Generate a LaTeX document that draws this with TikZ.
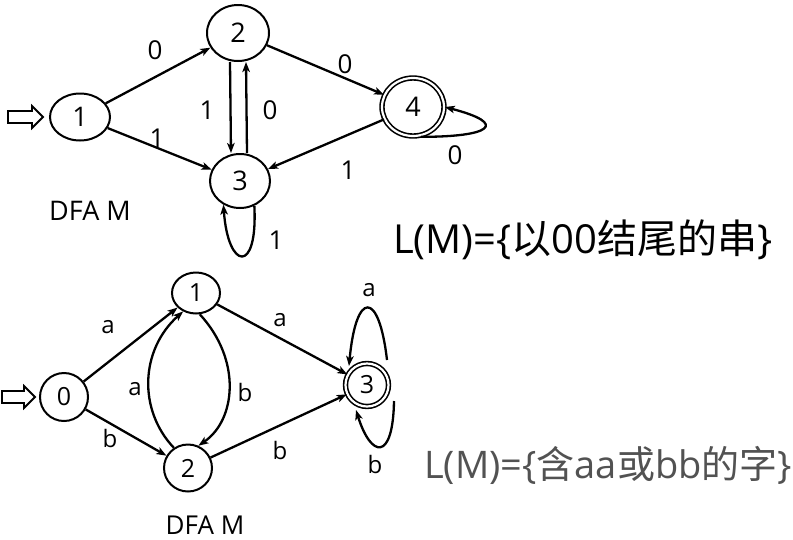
\documentclass[tikz,border=0pt]{standalone}
\usepackage{fontspec}
\setmainfont{Open Sans}
\newfontfamily\cjk{Noto Sans CJK SC}
\usetikzlibrary{arrows.meta,shapes.geometric}
\begin{document}
\begin{tikzpicture}[x=1pt,y=-1pt,
  st/.style={draw,ellipse,line width=2pt,inner sep=0pt},
  acc/.style={st,double,double distance=2.2pt,line width=1.6pt},
  ed/.style={line width=2.3pt,-{Stealth[length=10pt,width=7.5pt,inset=2.5pt]}},
  lab/.style={font=\fontsize{26}{28}\selectfont},
  labb/.style={font=\fontsize{24}{26}\selectfont},
  startarr/.style={draw,line width=1.8pt,fill=white}]
\useasboundingbox (0,0) rectangle (793,539);
% ---------- top DFA ----------
\node[st,minimum width=60pt,minimum height=47pt,font=\fontsize{27}{29}\selectfont] (n1) at (80,117) {1};
\node[st,minimum width=62pt,minimum height=56pt,font=\fontsize{27}{29}\selectfont] (n2) at (238,33) {2};
\node[st,minimum width=60pt,minimum height=54pt,font=\fontsize{27}{29}\selectfont] (n3) at (240,181) {3};
\node[acc,minimum width=62pt,minimum height=58pt,font=\fontsize{27}{29}\selectfont] (n4) at (413,107) {4};
% start arrow
\draw[startarr] (8,111) -- (32,111) -- (32,106) -- (43,117) -- (32,128) -- (32,123) -- (8,123) -- cycle;
\draw[ed] (n1) -- (n2);
\draw[ed] (n1) -- (n3);
\draw[ed] ([xshift=-8pt]n2.south) -- ([xshift=-9pt]n3.north);
\draw[ed] ([xshift=7pt]n3.north) -- ([xshift=8pt]n2.south);
\draw[ed] (n2) -- (n4);
\draw[ed] (n4) -- (n3);
\draw[ed] ([xshift=8pt]n4.south) .. controls (490,137) and (510,124) .. (n4.east);
\draw[ed] (n3.-60) .. controls (258,275) and (228,270) .. (n3.-125);
\node[lab] (l12) at (155,50) {0};
\node[lab] (l13) at (157,138) {1};
\node[lab] (l23) at (207,110) {1};
\node[lab] (l32) at (270,110) {0};
\node[lab] (l24) at (345,64) {0};
\node[lab] (l43) at (348,170) {1};
\node[lab] (l44) at (455,155) {0};
\node[lab] (l33) at (276,240) {1};
\node[font=\fontsize{27}{29}\selectfont] (t1) at (90,211) {DFA M};
\node[anchor=west,inner sep=0pt,font=\fontsize{40}{44}\selectfont] (L1) at (393,240) {L(M)=\{{\cjk 以}00{\cjk 结尾的串}\}};
% ---------- bottom DFA ----------
\node[st,minimum width=48pt,minimum height=48pt,font=\fontsize{25}{27}\selectfont] (m0) at (64,397) {0};
\node[st,minimum width=48pt,minimum height=41pt,font=\fontsize{25}{27}\selectfont] (m1) at (196,293) {1};
\node[st,minimum width=48pt,minimum height=47pt,font=\fontsize{25}{27}\selectfont] (m2) at (188,468) {2};
\node[acc,minimum width=43pt,minimum height=43pt,font=\fontsize{25}{27}\selectfont] (m3) at (367,385) {3};
\draw[startarr] (2,391) -- (24,391) -- (24,386) -- (35,397) -- (24,408) -- (24,403) -- (2,403) -- cycle;
\draw[ed] (m0) -- (m1);
\draw[ed] (m0) -- (m2);
\draw[ed] (m2.125) .. controls (138,410) and (140,350) .. (m1.-125);
\draw[ed] (m1.-80) .. controls (242,360) and (236,420) .. (m2.65);
\draw[ed] (m1) -- (m3);
\draw[ed] (m2) -- (m3);
\coordinate (a1) at (387,360);
\coordinate (a2) at (349,366);
\coordinate (b1) at (394,401);
\coordinate (b2) at (356,410);
\draw[ed] (a1) .. controls (379,290) and (356,290) .. (a2);
\draw[ed] (b1) .. controls (393,462) and (371,458) .. (b2);
\node[labb] (k01) at (108,327) {a};
\node[labb] (k02) at (110,438) {b};
\node[labb] (k21) at (135,389) {a};
\node[labb] (k12) at (245,392) {b};
\node[labb] (k13) at (280,320) {a};
\node[labb] (k23) at (280,450) {b};
\node[labb] (k33a) at (369,290) {a};
\node[labb] (k33b) at (375,464) {b};
\node[anchor=base,inner sep=0pt,font=\fontsize{26}{28}\selectfont] (t2) at (205,534) {DFA M};
\node[anchor=west,inner sep=0pt,text=black!68,font=\fontsize{38}{42}\selectfont] (L2) at (424,465) {L(M)=\{{\cjk 含}aa{\cjk 或}bb{\cjk 的字}\}};
\end{tikzpicture}
\end{document}
